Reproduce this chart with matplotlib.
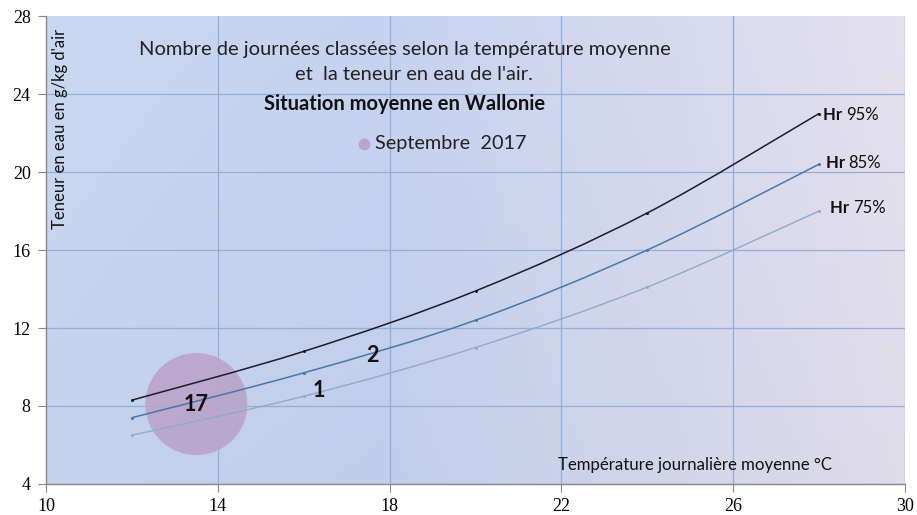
import numpy as np
import matplotlib
matplotlib.use("Agg")
import matplotlib.pyplot as plt
from matplotlib.path import Path
from matplotlib.patches import PathPatch

# ---------------- data ----------------
temps = [12, 16, 20, 24, 28]
hr95 = [8.3, 10.8, 13.9, 17.9, 23.0]
hr85 = [7.4, 9.7, 12.4, 16.0, 20.4]
hr75 = [6.5, 8.5, 11.0, 14.1, 18.0]
curve_labels = ["Hr 95%", "Hr 85%", "Hr 75%"]

bubble_x = [13.5, 16.35, 17.6]
bubble_y = [8.1, 8.8, 10.6]
bubble_n = [17, 1, 2]

xticks = [10, 14, 18, 22, 26, 30]
yticks = [4, 8, 12, 16, 20, 24, 28]

FONT = ["Lato", "DejaVu Sans"]
SERIF = ["Liberation Serif", "DejaVu Serif"]

fig = plt.figure(figsize=(9.17, 5.15), dpi=100)
ax = fig.add_axes([46/917, 31/515, (905-46)/917, (484-16)/515])
ax.set_xlim(10, 30)
ax.set_ylim(4, 28)

# background gradient
nx, ny = 256, 64
gx = np.linspace(0, 1, nx)[None, :]
gy = np.linspace(0, 1, ny)[:, None]
left = np.array([199, 213, 238]) / 255
mid = np.array([196, 208, 237]) / 255
right = np.array([226, 222, 236]) / 255
t = np.clip(gx, 0, 1)
img = np.zeros((ny, nx, 3))
for c in range(3):
    base = np.where(t < 0.4, left[c] + (mid[c]-left[c]) * t/0.4,
                    mid[c] + (right[c]-mid[c]) * (t-0.4)/0.6)
    img[:, :, c] = base + 0.02 * (gy - 0.5) * np.ones_like(gx)
img = np.clip(img, 0, 1)
ax.imshow(img, extent=[0, 1, 0, 1], transform=ax.transAxes, aspect="auto",
          origin="lower", zorder=0, interpolation="bilinear")

# grid
for xv in xticks[1:]:
    ax.axvline(xv, color="#92aedb", lw=0.9, zorder=1)
for yv in yticks[1:-1]:
    ax.axhline(yv, color="#92aedb", lw=0.9, zorder=1)

# smooth curves through data points (Catmull-Rom -> Bezier)
def smooth_path(xs, ys):
    pts = np.column_stack([xs, ys]).astype(float)
    verts = [pts[0]]
    codes = [Path.MOVETO]
    n = len(pts)
    for i in range(n - 1):
        p0 = pts[i-1] if i > 0 else pts[i]
        p1 = pts[i]
        p2 = pts[i+1]
        p3 = pts[i+2] if i+2 < n else pts[i+1]
        c1 = p1 + (p2 - p0) / 6
        c2 = p2 - (p3 - p1) / 6
        verts += [c1, c2, p2]
        codes += [Path.CURVE4] * 3
    return Path(verts, codes)

series = [(hr95, "#1c1c2c", 1.1), (hr85, "#4a78aa", 1.1), (hr75, "#93a9c8", 1.0)]
for ys, col, lw in series:
    ax.add_patch(PathPatch(smooth_path(temps, ys), fill=False, edgecolor=col, lw=lw, zorder=3))
    ax.plot(temps, ys, ls="none", marker="o", ms=1.2, color=col, zorder=3)

label_pos = [(28.1, 22.9), (28.15, 20.45), (28.25, 18.15)]
for lab, (lx, ly) in zip(curve_labels, label_pos):
    hr, pct = lab.split(" ")
    t1 = ax.text(lx, ly, hr + " ", fontsize=12, fontweight="bold", family=FONT,
                 color="#111111", ha="left", va="center", zorder=5)
    ax.annotate(pct, xycoords=t1, xy=(1, 0.5), va="center", ha="left",
                fontsize=12, family=FONT, color="#111111", zorder=5)

# bubbles (only large counts are visible as bubbles in the reference)
bx = np.array(bubble_x); by = np.array(bubble_y); bn = np.array(bubble_n)
mask = bn >= 5
ax.scatter(bx[mask], by[mask], s=(bn[mask] / 17.0) * 5400, color="#baa4c9",
           alpha=0.9, edgecolors="none", zorder=2)
for x, y, n in zip(bubble_x, bubble_y, bubble_n):
    ax.text(x, y, str(n), fontsize=15.5, fontweight="bold", family=FONT,
            color="#111111", ha="center", va="center", zorder=6)

# axes styling
ax.set_xticks(xticks)
ax.set_yticks(yticks)
ax.set_xticklabels([str(v) for v in xticks], family=SERIF, fontsize=13)
ax.set_yticklabels([str(v) for v in yticks], family=SERIF, fontsize=13)
ax.tick_params(axis="y", direction="out", length=6, color="#888888", pad=5)
ax.tick_params(axis="x", direction="out", length=6, color="#888888", pad=4)
for s in ["top", "right"]:
    ax.spines[s].set_visible(False)
for s in ["left", "bottom"]:
    ax.spines[s].set_color("#888888")
    ax.spines[s].set_linewidth(1.0)
    ax.spines[s].set_zorder(4)

# texts
ax.text(60/917, 1 - 129/515, "Teneur en eau en g/kg d'air", transform=fig.transFigure,
        rotation=90, fontsize=12, family=FONT, ha="center", va="center", color="#111111")
ax.text(695/917, 1 - 465/515, "Température journalière moyenne °C", transform=fig.transFigure,
        fontsize=12.1, family=FONT, ha="center", va="center", color="#111111")

ax.text(405/917, 1 - 49/515, "Nombre de journées classées selon la température moyenne",
        transform=fig.transFigure, fontsize=14.5, family=FONT, ha="center", va="center", color="#222222")
ax.text(414/917, 1 - 75/515, "et  la teneur en eau de l'air.",
        transform=fig.transFigure, fontsize=14.5, family=FONT, ha="center", va="center", color="#222222")
ax.text(405/917, 1 - 104/515, "Situation moyenne en Wallonie",
        transform=fig.transFigure, fontsize=14.5, fontweight="bold", family=FONT,
        ha="center", va="center", color="#111111")

# legend
ax.scatter([364/917], [1 - 144/515], s=55, color="#baa4c9", transform=fig.transFigure,
           zorder=6, clip_on=False)
ax.text(375/917, 1 - 144/515, "Septembre  2017", transform=fig.transFigure,
        fontsize=14.3, family=FONT, ha="left", va="center", color="#222222")

fig.savefig("out.png", dpi=100, facecolor="white")
